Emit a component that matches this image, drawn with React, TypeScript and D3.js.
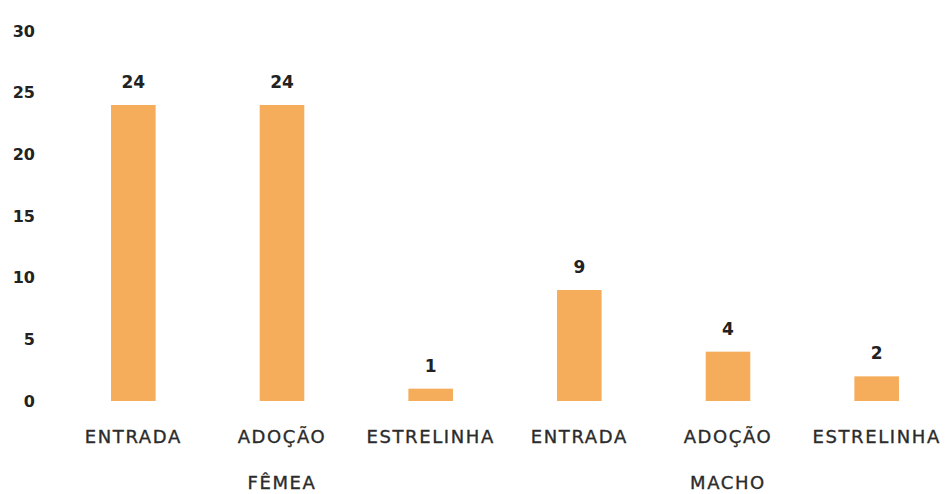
import React from "react";
import * as d3 from "d3";

const categories = ["ENTRADA", "ADOÇÃO", "ESTRELINHA", "ENTRADA", "ADOÇÃO", "ESTRELINHA"];
const groups = ["FÊMEA", "FÊMEA", "FÊMEA", "MACHO", "MACHO", "MACHO"];
const values = [24, 24, 1, 9, 4, 2];
const yTicks = [0, 5, 10, 15, 20, 25, 30];

const W = 952;
const H = 494;

const App = () => {
  const keys = categories.map((c, i) => i);
  const x = d3
    .scaleBand<number>()
    .domain(keys)
    .range([59, 951])
    .paddingInner(0.7)
    .paddingOuter(0.35);
  const y = d3.scaleLinear().domain([0, 30]).range([401, 31]);

  // group label sits under the middle bar of each group
  const groupNames = Array.from(new Set(groups));
  const groupCenters = groupNames.map(g => {
    const idx = keys.filter(i => groups[i] === g);
    const cs = idx.map(i => (x(i) as number) + x.bandwidth() / 2);
    return { g, cx: d3.mean(cs) as number };
  });

  const labelStyle = {
    fontFamily: "DejaVu Sans, sans-serif",
    fontSize: 18,
    letterSpacing: 1.6,
    fill: "#2b2b2b",
    stroke: "#2b2b2b",
    strokeWidth: 0.35,
  };

  return (
    <svg width={W} height={H} style={{ position: "absolute", left: 0, top: 0 }}>
      <rect width={W} height={H} fill="#fff" />
      {yTicks.map(t => (
        <text
          key={t}
          x={35}
          y={y(t)}
          dy="0.36em"
          textAnchor="end"
          fontFamily="DejaVu Sans, sans-serif"
          fontWeight="bold"
          fontSize={16}
          fill="#222"
        >
          {t}
        </text>
      ))}
      {values.map((v, i) => (
        <g key={i}>
          <rect
            x={x(i)}
            y={y(v)}
            width={x.bandwidth()}
            height={y(0) - y(v)}
            fill="#F5AD5C"
          />
          <text
            x={(x(i) as number) + x.bandwidth() / 2}
            y={y(v) - 17}
            textAnchor="middle"
            fontFamily="DejaVu Sans, sans-serif"
            fontWeight="bold"
            fontSize={17}
            fill="#222"
          >
            {v}
          </text>
          <text
            x={(x(i) as number) + x.bandwidth() / 2}
            y={443}
            textAnchor="middle"
            {...labelStyle}
          >
            {categories[i]}
          </text>
        </g>
      ))}
      {groupCenters.map(d => (
        <text key={d.g} x={d.cx} y={489} textAnchor="middle" {...labelStyle}>
          {d.g}
        </text>
      ))}
    </svg>
  );
};

export default App;
